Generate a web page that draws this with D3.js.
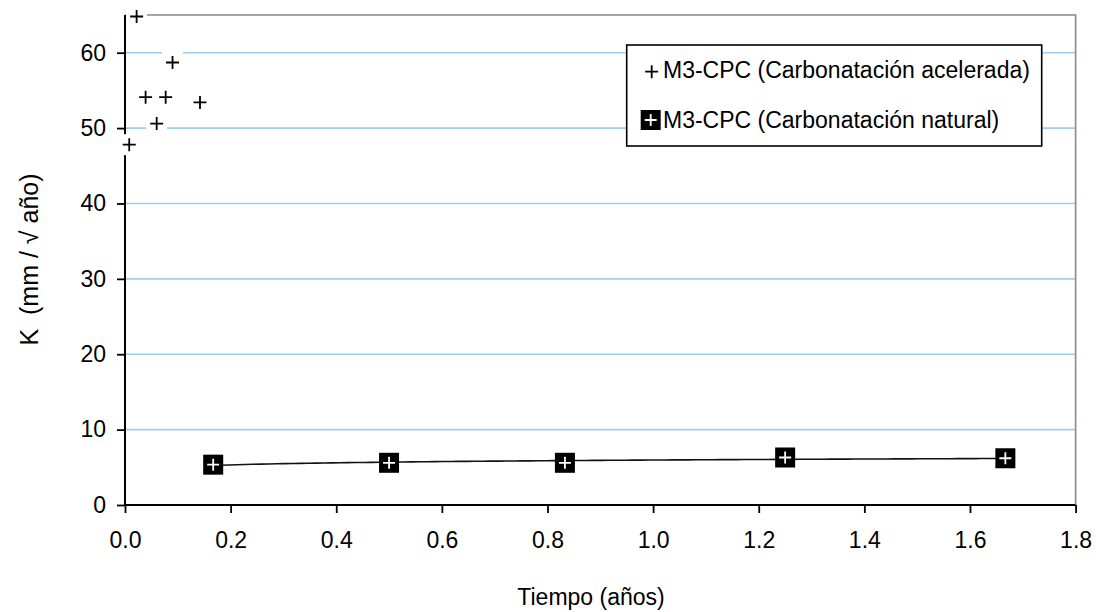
<!DOCTYPE html>
<html>
<head>
<meta charset="utf-8">
<script src="https://cdn.jsdelivr.net/npm/d3@7"></script>
<style>
  html, body { margin: 0; padding: 0; background: #fff; }
  svg text { font-family: "Liberation Sans", Arial, sans-serif; fill: #000; }
</style>
</head>
<body>
<svg id="chart" width="1096" height="612"></svg>
<script>
// ---- Data ----
const accelTime = [0.008, 0.022, 0.039, 0.060, 0.077, 0.090, 0.142];
const accelK    = [47.8, 64.8, 54.1, 50.6, 54.1, 58.7, 53.4];
const naturalTime = [0.167, 0.500, 0.833, 1.250, 1.667];
const naturalK    = [5.35, 5.6, 5.6, 6.3, 6.2];
const xTicks = [0, 0.2, 0.4, 0.6, 0.8, 1.0, 1.2, 1.4, 1.6, 1.8];
const yTicks = [0, 10, 20, 30, 40, 50, 60];
const seriesNames = ["M3-CPC (Carbonatación acelerada)", "M3-CPC (Carbonatación natural)"];
const xTitle = "Tiempo (años)";
const yTitle = "K  (mm / \u221A año)";

// ---- Layout ----
const svg = d3.select("#chart");
const pL = 125, pR = 1075.6, pT = 15, pB = 505;
const x = d3.scaleLinear().domain([0, 1.8]).range([pL, pR]);
const y = d3.scaleLinear().domain([0, 65]).range([pB, pT]);
const FS = 23;

// gridlines
svg.append("g").selectAll("line").data(yTicks.filter(d => d > 0)).join("line")
  .attr("x1", pL).attr("x2", pR)
  .attr("y1", d => y(d)).attr("y2", d => y(d))
  .attr("stroke", "#9fcdf5").attr("stroke-width", 1.6);

// plot border (top & right)
svg.append("path")
  .attr("d", `M${pL},${y(65)}H${pR}V${pB}`)
  .attr("fill", "none").attr("stroke", "#888").attr("stroke-width", 1.6);

// axes
const xAxis = d3.axisBottom(x).tickValues(xTicks).tickFormat(d3.format(".1f"))
  .tickSize(8).tickSizeOuter(0).tickPadding(19);
const gx = svg.append("g").attr("transform", `translate(0,${pB})`).call(xAxis);
const yAxis = d3.axisLeft(y).tickValues(yTicks).tickFormat(d3.format("d"))
  .tickSize(8).tickSizeOuter(0).tickPadding(11);
const gy = svg.append("g").attr("transform", `translate(${pL},0)`).call(yAxis);
[gx, gy].forEach(g => {
  g.select(".domain").attr("stroke", "#000").attr("stroke-width", 2);
  g.selectAll(".tick line").attr("stroke", "#000").attr("stroke-width", 1.8);
  g.selectAll(".tick text").attr("font-size", FS)
    .style("font-family", '"Liberation Sans", Arial, sans-serif').attr("fill", "#000");
});
gy.select(".domain").attr("d", `M0,${y(65)}V${pB}`);
gx.select(".domain").attr("d", `M${pL},0H${pR}`);

// log trend line of natural series (computed from data)
const lx = naturalTime.map(Math.log);
const mx = d3.mean(lx), my = d3.mean(naturalK);
const slope = d3.sum(lx.map((v, i) => (v - mx) * (naturalK[i] - my))) / d3.sum(lx.map(v => (v - mx) ** 2));
const icpt = my - slope * mx;
const tx0 = naturalTime[0], tx1 = naturalTime[naturalTime.length - 1];
const trendPts = d3.range(0, 101).map(i => {
  const t = tx0 + (tx1 - tx0) * i / 100;
  return [t, icpt + slope * Math.log(t)];
});
svg.append("path")
  .attr("d", d3.line().x(d => x(d[0])).y(d => y(d[1]))(trendPts))
  .attr("fill", "none").attr("stroke", "#111").attr("stroke-width", 1.6);

// natural markers
function squarePlus(g, cx, cy, s) {
  g.append("rect").attr("x", cx - s / 2).attr("y", cy - s / 2).attr("width", s).attr("height", s).attr("fill", "#000");
  g.append("path").attr("d", `M${cx - 6},${cy}H${cx + 6}M${cx},${cy - 6}V${cy + 6}`)
    .attr("stroke", "#fff").attr("stroke-width", 1.8);
}
const gn = svg.append("g");
naturalTime.forEach((t, i) => squarePlus(gn, x(t), y(naturalK[i]), 20));

// accelerated markers
function plus(g, cx, cy, bg) {
  if (bg) g.append("rect").attr("x", cx - 10.5).attr("y", cy - 10.5).attr("width", 21).attr("height", 21).attr("fill", "#fff");
  g.append("path").attr("d", `M${cx - 6.5},${cy}H${cx + 6.5}M${cx},${cy - 6.5}V${cy + 6.5}`)
    .attr("stroke", "#000").attr("stroke-width", 1.8);
}
const ga = svg.append("g");
accelTime.forEach((t, i) => plus(ga, x(t), y(accelK[i]), true));

// legend
const lg = svg.append("g");
lg.append("rect").attr("x", 626.7).attr("y", 45).attr("width", 415).attr("height", 101)
  .attr("fill", "#fff").attr("stroke", "#000").attr("stroke-width", 1.6);
plus(lg, 651.7, 71.7, false);
squarePlus(lg, 650.7, 120, 20);
lg.append("text").attr("x", 663).attr("y", 77.5).attr("font-size", FS).text(seriesNames[0]);
lg.append("text").attr("x", 663).attr("y", 127.5).attr("font-size", FS).text(seriesNames[1]);

// axis titles
svg.append("text").attr("x", 591).attr("y", 605).attr("text-anchor", "middle")
  .attr("font-size", FS).text(xTitle);
svg.append("text").attr("transform", "translate(38,259.5) rotate(-90)")
  .attr("text-anchor", "middle").attr("font-size", 25).style("white-space", "pre").text(yTitle);
</script>
</body>
</html>
